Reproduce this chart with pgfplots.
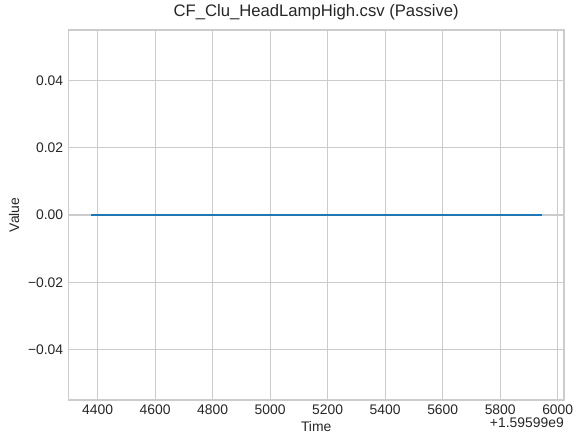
\documentclass[border=0pt]{standalone}
\usepackage{pgfplots}
\pgfplotsset{compat=1.18}
\usepackage{fontspec}
\setmainfont{Liberation Sans}
\definecolor{gridc}{HTML}{CCCCCC}
\definecolor{txt}{HTML}{262626}
\definecolor{line1}{HTML}{1F77B4}
\begin{document}
\begin{tikzpicture}[x=1pt,y=1pt]
\useasboundingbox (0,0) rectangle (419.04,319.68);
\begin{axis}[
  at={(49.2pt,31.7pt)}, anchor=south west,
  scale only axis, width=356.9pt, height=266.4pt,
  xmin=4298, xmax=6022, ymin=-0.055, ymax=0.055,
  xtick={4400,4600,4800,5000,5200,5400,5600,5800,6000},
  xticklabels={4400,4600,4800,5000,5200,5400,5600,5800,6000},
  ytick={-0.04,-0.02,0,0.02,0.04},
  yticklabels={−0.04,−0.02,0.00,0.02,0.04},
  scaled y ticks=false, scaled x ticks=false,
  major tick length=0pt,
  grid=major,
  grid style={gridc, line width=0.8pt},
  axis line style={gridc, line width=1pt},
  tick label style={font=\fontsize{10}{12}\selectfont, text=txt, inner sep=0pt},
  xticklabel style={anchor=north, yshift=-3.5pt},
  yticklabel style={anchor=east, xshift=-3.5pt},
  clip=false,
]
\addplot[line1, line width=1.5pt] coordinates {(4376,0) (5944,0)};
\end{axis}
\node[font=\fontsize{12}{14}\selectfont, text=txt, anchor=center] at (227.65,311.1) {CF\_Clu\_HeadLampHigh.csv (Passive)};
\node[font=\fontsize{10}{12}\selectfont, text=txt, anchor=center] at (227.65,12.5) {Time};
\node[font=\fontsize{10}{12}\selectfont, text=txt, anchor=center, rotate=90] at (10.2,164.9) {Value};
\node[font=\fontsize{10}{12}\selectfont, text=txt, anchor=east, inner sep=0pt] at (406.1,15.4) {+1.59599e9};
\end{tikzpicture}
\end{document}
